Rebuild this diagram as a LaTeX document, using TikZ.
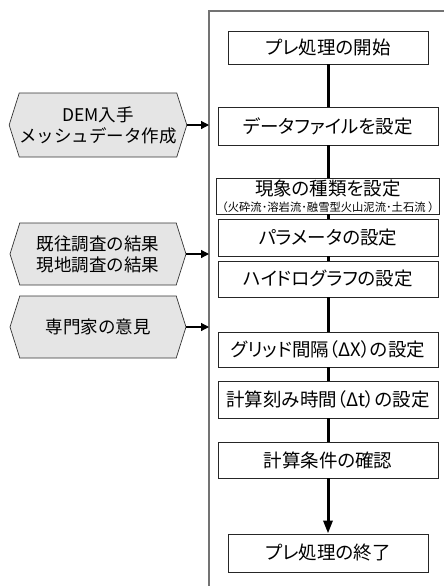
\documentclass[tikz,border=0pt]{standalone}
\usepackage{fontspec}
\newfontfamily\jp[Renderer=HarfBuzz]{Noto Sans CJK JP}
\newfontfamily\jpp[Renderer=HarfBuzz,RawFeature=+palt]{Noto Sans CJK JP}
\usetikzlibrary{shapes.symbols,arrows.meta}
\begin{document}
\begin{tikzpicture}[x=1pt,y=-1pt,
  box/.style={draw=black!85,line width=0.9pt,fill=white,inner sep=0pt,
    minimum width=220pt,font=\jpp\fontsize{18.5}{20}\selectfont},
  narrow/.style={minimum width=200pt},
  hexa/.style={shape=signal,signal to=west and east,signal pointer angle=145,
    draw=black!80,line width=0.7pt,fill=black!10,inner sep=0pt,
    minimum width=176pt,align=center,font=\jp\fontsize{17.5}{21}\selectfont},
  frame/.style={draw=black!55,line width=1.4pt},
  flow/.style={draw=black,line width=3pt},
  inarr/.style={draw=black,line width=1.2pt,-{Triangle[length=8pt,width=8pt]}}
]
\useasboundingbox (0,0) rectangle (444,586);
% frame
\coordinate (ftop) at (209,11);
\coordinate (fbot) at (209,586);
\coordinate (fright) at (444,11);
\draw[frame] (fbot) -- (ftop) -- (fright);
% flow boxes
\node[box,narrow,minimum height=33pt] (b1) at (328,47.5) {プレ処理の開始};
\node[box,minimum height=38pt] (b2) at (328,126) {データファイルを設定};
\node[box,minimum height=36pt,align=center] (b3) at (328,196)
  {現象の種類を設定\\[-4pt]{\jp\fontsize{11.3}{12}\selectfont （火砕流･溶岩流･融雪型火山泥流･土石流 ）}};
\node[box,minimum height=37pt] (b4) at (328,237.5) {パラメータの設定};
\node[box,minimum height=36pt] (b5) at (328,279) {ハイドログラフの設定};
\node[box,minimum height=35pt] (b6) at (328,349.5) {グリッド間隔（ΔX）の設定};
\node[box,minimum height=37pt] (b7) at (328,399.5) {計算刻み時間（Δt）の設定};
\node[box,minimum height=36pt] (b8) at (328,460) {計算条件の確認};
\node[box,narrow,minimum height=38pt] (b9) at (328,553) {プレ処理の終了};
% flow connectors
\draw[flow] (b1) -- (b2);
\draw[flow] (b2) -- (b3);
\draw[flow] (b3) -- (b4);
\draw[flow] (b4) -- (b5);
\draw[flow] (b5) -- (b6);
\draw[flow] (b6) -- (b7);
\draw[flow] (b7) -- (b8);
\draw[flow,-{Triangle[length=13pt,width=9pt]}] (b8) -- (b9);
% inputs
\node[hexa,minimum height=64pt] (h1) at (98,125) {DEM入手\\メッシュデータ作成};
\node[hexa,minimum height=62pt] (h2) at (98,254) {既往調査の結果\\現地調査の結果};
\node[hexa,minimum height=62pt] (h3) at (98,327) {専門家の意見};
\draw[inarr] (h1.east) -- (h1.east -| ftop);
\draw[inarr] (h2.east) -- (h2.east -| ftop);
\draw[inarr] (h3.east) -- (h3.east -| ftop);
\end{tikzpicture}
\end{document}
